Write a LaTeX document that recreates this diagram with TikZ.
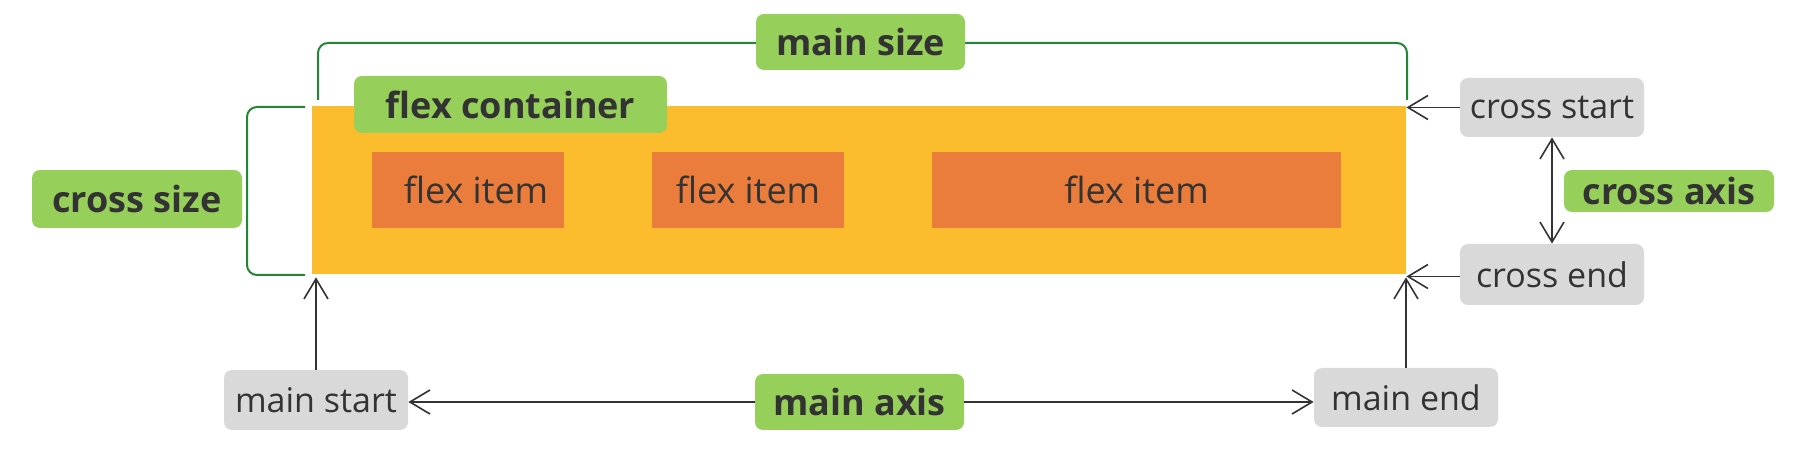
\documentclass[tikz,border=0pt]{standalone}
\usepackage{fontspec}
\setmainfont{Open Sans}
\usetikzlibrary{arrows.meta,calc}
\definecolor{txt}{RGB}{51,51,51}
\definecolor{lgreen}{RGB}{150,207,90}
\definecolor{dgreen}{RGB}{34,134,52}
\definecolor{yel}{RGB}{251,189,45}
\definecolor{org}{RGB}{234,124,60}
\definecolor{gry}{RGB}{217,217,217}
\tikzset{
  lbl/.style={fill=lgreen, rounded corners=4pt, text=txt, font=\fontsize{18}{20}\selectfont\bfseries, inner sep=0pt},
  endbox/.style={fill=gry, rounded corners=4pt, text=txt, font=\fontsize{17}{19}\selectfont, inner sep=0pt, minimum width=92pt},
  item/.style={fill=org, text=txt, font=\fontsize{18}{20}\selectfont, inner sep=0pt, minimum height=38pt},
  arr/.style={draw=txt, line width=0.8pt, -{Straight Barb[length=10pt,width=12pt,line width=0.8pt]}},
  darr/.style={draw=txt, line width=0.8pt, {Straight Barb[length=10pt,width=12pt,line width=0.8pt]}-{Straight Barb[length=10pt,width=12pt,line width=0.8pt]}},
  bracket/.style={draw=dgreen, line width=1pt, rounded corners=5pt}
}
\begin{document}
\begin{tikzpicture}[x=0.5pt,y=-0.5pt]
\useasboundingbox (0,0) rectangle (1794,458);
% container
\node[fill=yel, minimum width=547pt, minimum height=84pt, inner sep=0pt] (box) at (859,190) {};
\node[lbl, minimum width=156.5pt, minimum height=28.5pt] (fc) at (510.5,104.5) {flex container};
\node[item, minimum width=96pt] (i1) at (468,190) {\hspace*{8pt}flex item};
\node[item, minimum width=96pt] (i2) at (748,190) {flex item};
\node[item, minimum width=204.5pt] (i3) at (1136.5,190) {flex item};
% brackets
\coordinate (msL) at (318,100);
\coordinate (msR) at (1407,100);
\coordinate (msT) at (860,43);
\draw[bracket] (msL) -- (msL |- msT) -- (msR |- msT) -- (msR);
\node[lbl, minimum width=104.5pt, minimum height=28pt] (ms) at (860.5,42) {main size};
\coordinate (csT) at (305,107);
\coordinate (csB) at (305,275);
\coordinate (csX) at (247,190);
\draw[bracket] (csT) -- (csT -| csX) -- (csB -| csX) -- (csB);
\node[lbl, minimum width=105pt, minimum height=29pt] (cz) at (137,199) {cross size};
% end boxes
\node[endbox, minimum height=29.5pt] (cs) at (1552,107.5) {cross start};
\node[endbox, minimum height=30.5pt] (ce) at (1552,274.5) {cross end};
\node[lbl, minimum width=105pt, minimum height=21pt] (ca) at (1669,191) {cross axis};
\node[endbox, minimum height=30pt] (mst) at (316,400) {main start};
\node[lbl, minimum width=104.5pt, minimum height=28pt] (ma) at (859.5,402) {main axis};
\node[endbox, minimum height=29.5pt] (me) at (1406,397.5) {main end};
% arrows
\draw[arr] (mst.north) -- ([yshift=-1.5pt]mst.north |- box.south);
\draw[arr] (me.north) -- ([yshift=-1.5pt]me.north |- box.south);
\draw[arr] (cs.west) -- (cs.west -| box.east);
\draw[arr] ([yshift=-1pt]ce.west) -- ([yshift=-1pt]ce.west -| box.east);
\draw[darr] (cs.south) -- (ce.north);
\draw[arr] (ma.west) -- (ma.west -| mst.east);
\draw[arr] (ma.east) -- (ma.east -| me.west);
\end{tikzpicture}
\end{document}
